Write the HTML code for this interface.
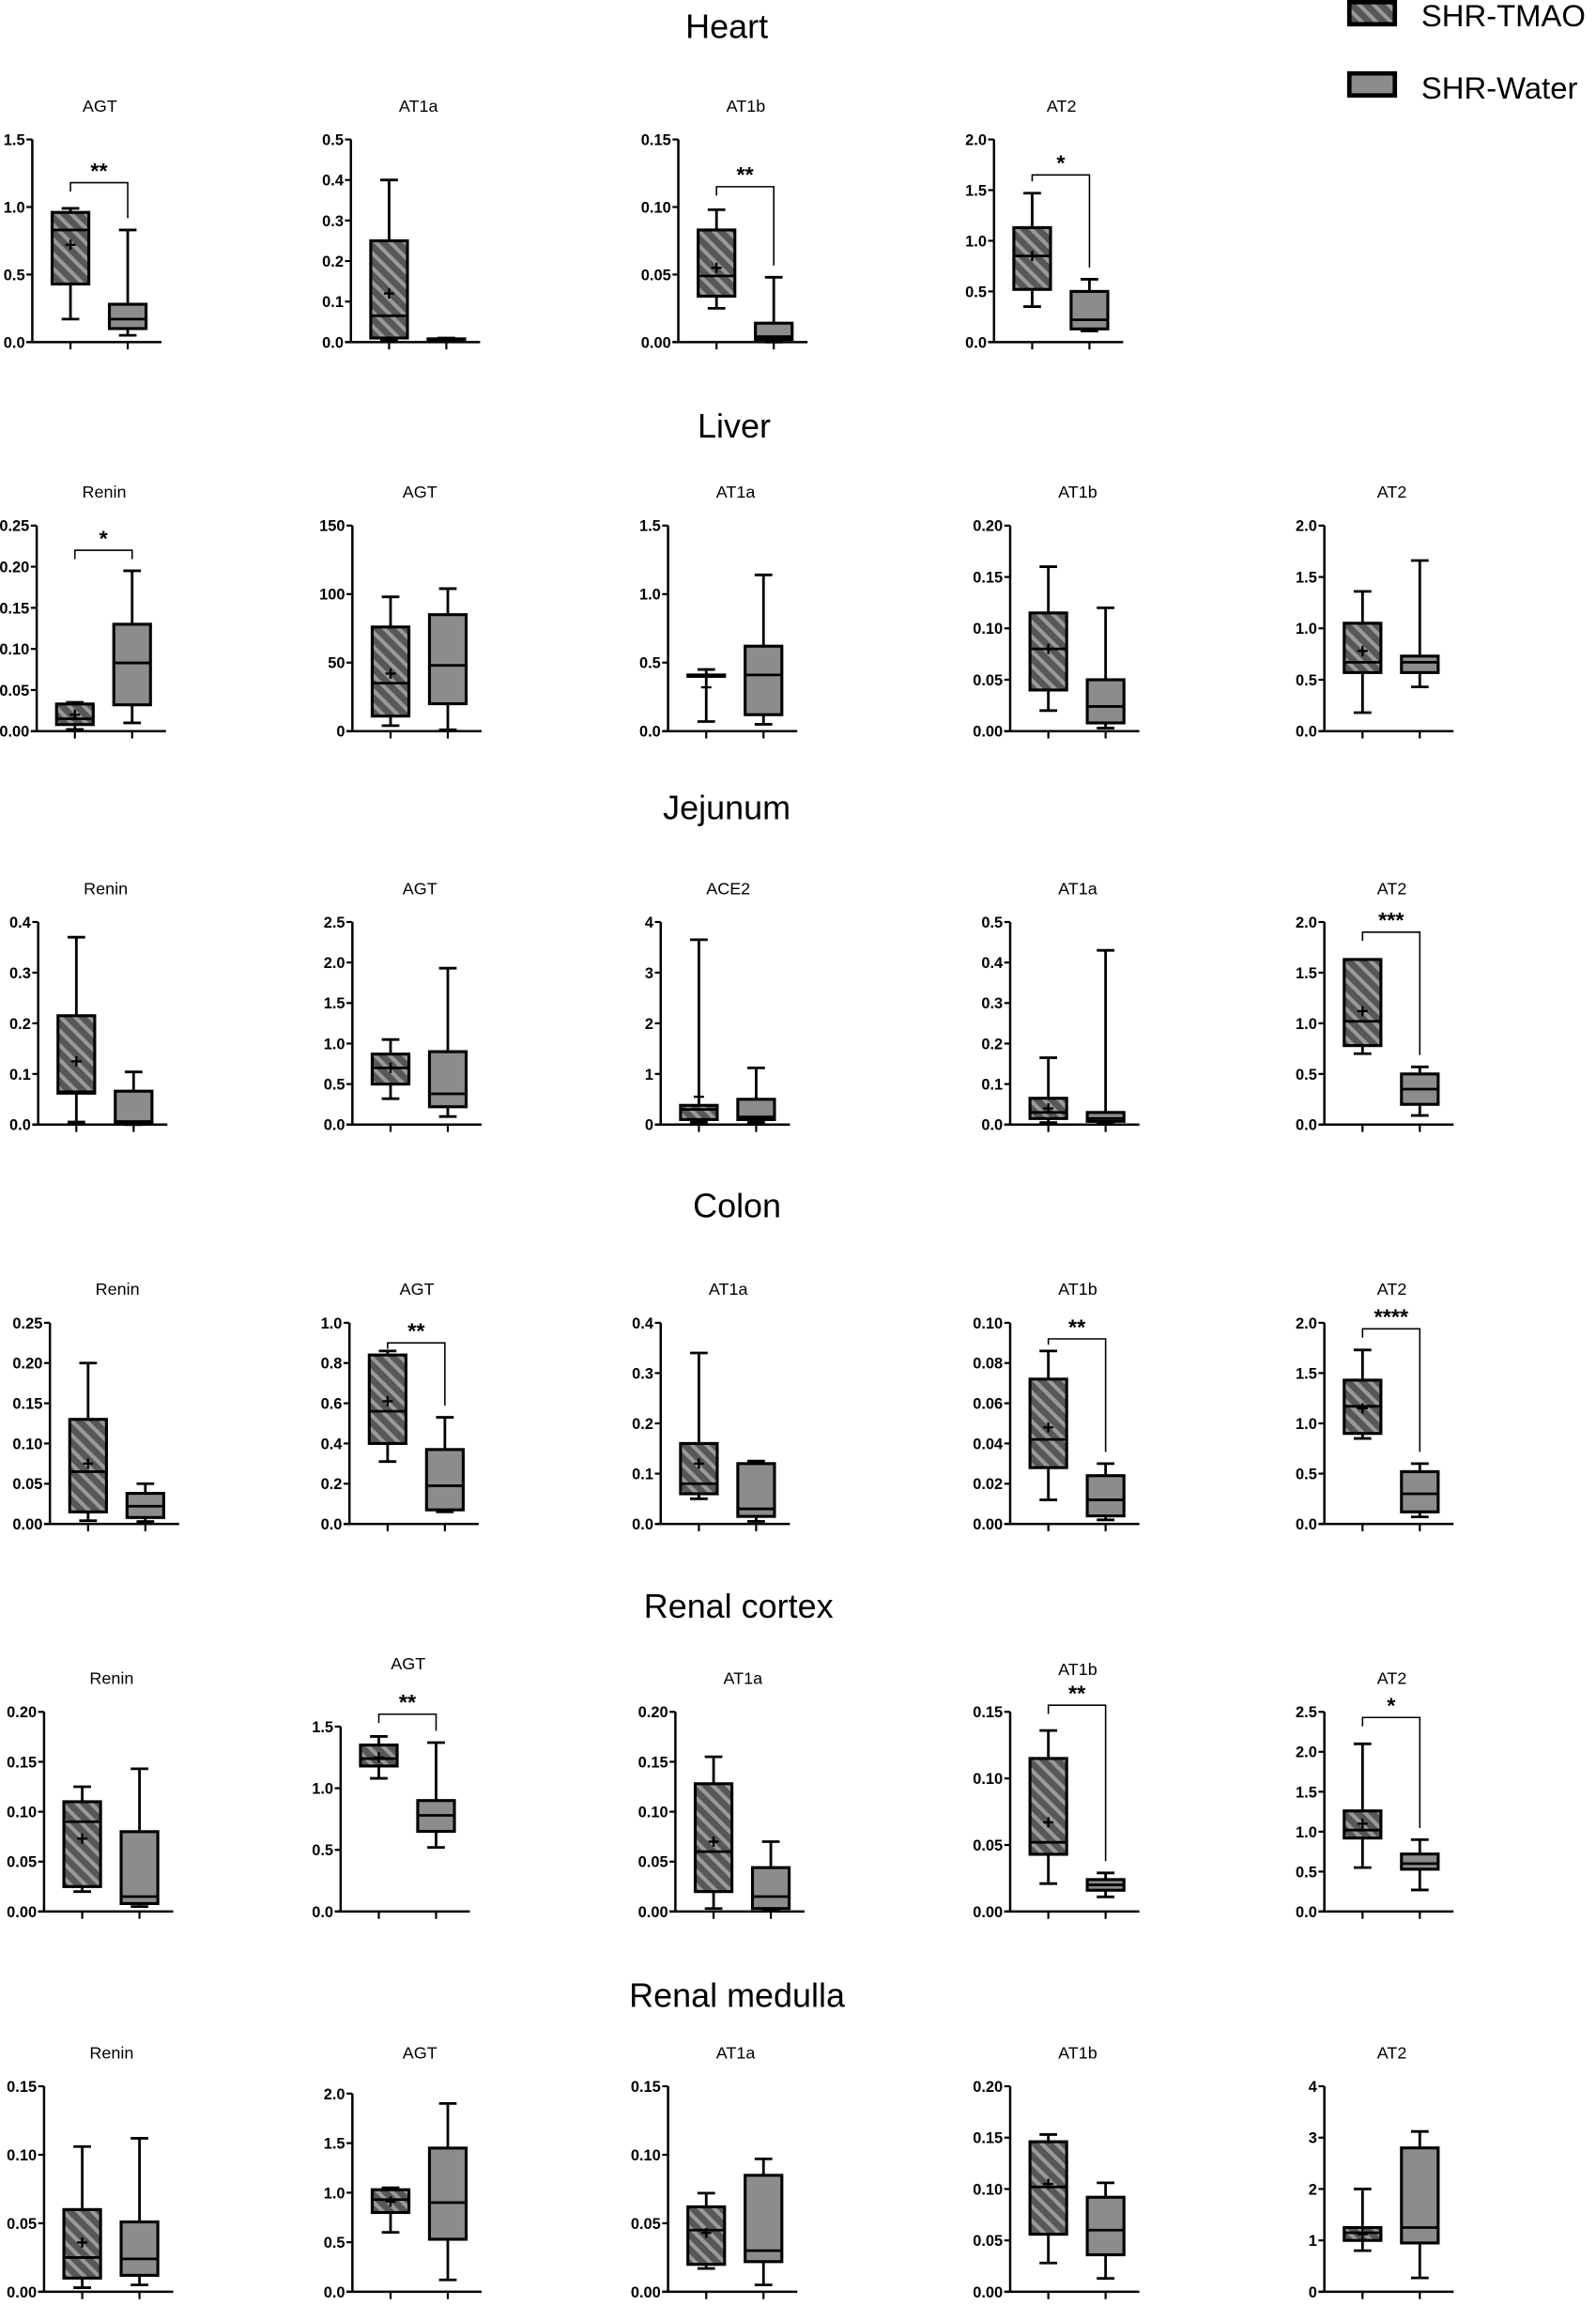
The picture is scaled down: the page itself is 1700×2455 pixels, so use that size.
<!DOCTYPE html>
<html><head><meta charset="utf-8"><style>
html,body{margin:0;padding:0;background:#fff}
svg{display:block}
text{font-family:"Liberation Sans",Arial,sans-serif}
</style></head><body>
<svg id="fig" xmlns="http://www.w3.org/2000/svg" width="1700" height="2455" viewBox="0 0 1087 1570" preserveAspectRatio="none">
<defs>
<pattern id="hatch" patternUnits="userSpaceOnUse" width="7" height="7" patternTransform="rotate(-45)">
<rect width="7" height="7" fill="#575757"/><rect width="2.6" height="7" fill="#9a9a9a"/>
</pattern>
</defs>
<g>
<rect x="919" y="1.5" width="31" height="15" fill="url(#hatch)" stroke="#000" stroke-width="3"/>
<text x="968" y="18" font-size="21">SHR-TMAO</text>
<rect x="919" y="50" width="31" height="15" fill="#8c8c8c" stroke="#000" stroke-width="3"/>
<text x="968" y="67" font-size="21">SHR-Water</text>
</g>
<g id="plots"></g>
</svg>
<script>
// ---- data ----
const rowNames = ["Heart","Liver","Jejunum","Colon","Renal cortex","Renal medulla"];
const panelTitles = [
 ["AGT","AT1a","AT1b","AT2"],
 ["Renin","AGT","AT1a","AT1b","AT2"],
 ["Renin","AGT","ACE2","AT1a","AT2"],
 ["Renin","AGT","AT1a","AT1b","AT2"],
 ["Renin","AGT","AT1a","AT1b","AT2"],
 ["Renin","AGT","AT1a","AT1b","AT2"]
];
const yMax = [
 [1.5,0.5,0.15,2.0],
 [0.25,150,1.5,0.20,2.0],
 [0.4,2.5,4,0.5,2.0],
 [0.25,1.0,0.4,0.10,2.0],
 [0.20,1.5,0.20,0.15,2.5],
 [0.15,2.0,0.15,0.20,4]
];
const yStep = [
 [0.5,0.1,0.05,0.5],
 [0.05,50,0.5,0.05,0.5],
 [0.1,0.5,1,0.1,0.5],
 [0.05,0.2,0.1,0.02,0.5],
 [0.05,0.5,0.05,0.05,0.5],
 [0.05,0.5,0.05,0.05,1]
];
const yDecimals = [
 [1,1,2,1],[2,0,1,2,1],[1,1,0,1,1],[2,1,1,2,1],[2,1,2,2,1],[2,1,2,2,0]
];
// [min, q1, median, q3, max, mean]
const tmaoStats = [
 [[.17,.43,.83,.96,.99,.72],[.005,.01,.065,.25,.40,.12],[.025,.034,.049,.083,.098,.055],[.35,.52,.85,1.13,1.47,.85]],
 [[.002,.008,.015,.033,.035,.02],[4,11,35,76,98,42],[.07,.40,.40,.41,.45,.32],[.02,.04,.08,.115,.16,.08],[.18,.57,.67,1.05,1.36,.78]],
 [[.005,.062,.065,.215,.37,.125],[.32,.5,.7,.87,1.05,.7],[.05,.1,.3,.38,3.65,.55],[.005,.015,.03,.065,.165,.04],[.7,.78,1.02,1.63,1.63,1.12]],
 [[.004,.015,.065,.13,.2,.075],[.31,.4,.56,.84,.86,.61],[.05,.06,.08,.16,.34,.12],[.012,.028,.042,.072,.086,.048],[.85,.9,1.17,1.43,1.73,1.15]],
 [[.02,.025,.09,.11,.125,.073],[1.08,1.18,1.24,1.35,1.42,1.25],[.003,.02,.06,.128,.155,.07],[.021,.043,.052,.115,.136,.067],[.55,.92,1.02,1.26,2.1,1.1]],
 [[.003,.01,.025,.06,.106,.036],[.6,.8,.93,1.03,1.05,.91],[.017,.02,.045,.062,.072,.043],[.028,.056,.102,.146,.153,.105],[.8,1.0,1.15,1.25,2.0,1.12]]
];
// [min, q1, median, q3, max]
const waterStats = [
 [[.05,.10,.17,.28,.83],[.003,.004,.006,.008,.01],[0,.002,.004,.014,.048],[.11,.13,.22,.5,.62]],
 [[.01,.032,.083,.13,.195],[1,20,48,85,104],[.05,.12,.41,.62,1.14],[.003,.008,.024,.05,.12],[.43,.57,.67,.73,1.66]],
 [[0,.003,.006,.066,.104],[.1,.22,.38,.9,1.93],[.05,.1,.15,.5,1.12],[.003,.008,.015,.03,.43],[.09,.2,.35,.5,.57]],
 [[.003,.008,.022,.038,.05],[.06,.07,.19,.37,.53],[.005,.015,.03,.12,.125],[.002,.004,.012,.024,.03],[.07,.12,.3,.52,.6]],
 [[.005,.008,.015,.08,.143],[.52,.65,.78,.9,1.37],[.002,.003,.015,.044,.07],[.011,.016,.02,.024,.029],[.27,.53,.6,.72,.9]],
 [[.005,.012,.024,.051,.112],[.12,.53,.9,1.45,1.9],[.005,.022,.03,.085,.097],[.013,.036,.06,.092,.106],[.27,.95,1.25,2.8,3.12]]
];
const sigStars = [
 ["**","","**","*"],
 ["*","","","",""],
 ["","","","","***"],
 ["","**","","**","****"],
 ["","**","","**","*"],
 ["","","","",""]
];
const sigLevel = [
 [1.18,0,.115,1.65],
 [.22,0,0,0,0],
 [0,0,0,0,1.9],
 [0,.9,0,.092,1.94],
 [0,1.6,0,.155,2.43],
 [0,0,0,0,0]
];
// ---- layout (pixels, not data) ----
const rowTitleY = [26,298,558,829,1102,1367];
const rowTitleX = [495,500,495,502,503,502];
const rowTop = [95,358,628,901,1166,1421];
const rowBottom = [233,498,766,1038,1302,1561];
const topShift = [
 [0,0,0,0],[0,0,0,0,0],[0,0,0,0,0],[0,0,0,0,0],[0,10,0,0,0],[0,5,0,0,0]
];
const titleShift = [
 [0,0,0,0],[0,0,0,0,0],[0,0,0,0,0],[0,0,0,0,0],[0,-10,0,-6,0],[0,0,0,0,0]
];
const axisX = [
 [22,239,462,677],
 [25,240,455,688,902],
 [26,240,450,688,902],
 [34,238,450,688,902],
 [30,232,460,688,902],
 [30,240,455,688,902]
];
const NS="http://www.w3.org/2000/svg";
const root=document.getElementById('plots');
function mk(tag,attrs,parent){const e=document.createElementNS(NS,tag);for(const k in attrs)e.setAttribute(k,attrs[k]);(parent||root).appendChild(e);return e;}

rowNames.forEach((rn,r)=>{
  const t=mk('text',{x:rowTitleX[r],y:rowTitleY[r],'font-size':23,'text-anchor':'middle'});
  
  
  t.textContent=rn;
  panelTitles[r].forEach((pt,p)=>{
    const g=mk('g',{});
    
    
    const ax=axisX[r][p], top=rowTop[r]+topShift[r][p], bot=rowBottom[r], ymax=yMax[r][p];
    const yS=v=>bot-(v/ymax)*(bot-top);
    const x1=ax+26, x2=ax+65, bw=12.5;
    const ty=rowTop[r]-19+titleShift[r][p];
    const ttl=mk('text',{x:ax+46,y:ty,'font-size':11.5,'text-anchor':'middle'},g);
    
    
    ttl.textContent=pt;
    const ya=mk('line',{x1:ax,y1:top,x2:ax,y2:bot,stroke:'#000','stroke-width':1.6},g);
    
    
    const xa=mk('line',{x1:ax-4,y1:bot,x2:ax+88,y2:bot,stroke:'#000','stroke-width':1.6},g);
    
    
    [x1,x2].forEach(xx=>{mk('line',{x1:xx,y1:bot,x2:xx,y2:bot+5,stroke:'#000','stroke-width':1.4},g);});
    const n=Math.round(ymax/yStep[r][p]);
    for(let i=0;i<=n;i++){
      const v=i*yStep[r][p], y=yS(v);
      mk('line',{x1:ax-4,y1:y,x2:ax,y2:y,stroke:'#000','stroke-width':1.4},g);
      const tl=mk('text',{x:ax-5,y:y+3.8,'font-size':10.5,'font-weight':'bold','text-anchor':'end'},g);
      
      
      tl.textContent=v.toFixed(yDecimals[r][p]);
    }
    function box(st,cx,fill,name){
      const bg=mk('g',{},g);
      
      
      mk('line',{x1:cx,y1:yS(st[0]),x2:cx,y2:yS(st[4]),stroke:'#000','stroke-width':1.8},bg);
      mk('line',{x1:cx-6,y1:yS(st[0]),x2:cx+6,y2:yS(st[0]),stroke:'#000','stroke-width':1.8},bg);
      mk('line',{x1:cx-6,y1:yS(st[4]),x2:cx+6,y2:yS(st[4]),stroke:'#000','stroke-width':1.8},bg);
      const h=Math.max(yS(st[1])-yS(st[3]),0.5);
      mk('rect',{x:cx-bw,y:yS(st[3]),width:2*bw,height:h,fill:fill,stroke:'#000','stroke-width':2},bg);
      mk('line',{x1:cx-bw,y1:yS(st[2]),x2:cx+bw,y2:yS(st[2]),stroke:'#000','stroke-width':1.8},bg);
      if(st.length>5){
        const my=yS(st[5]);
        mk('line',{x1:cx-3.5,y1:my,x2:cx+3.5,y2:my,stroke:'#000','stroke-width':1.5},bg);
        mk('line',{x1:cx,y1:my-3.5,x2:cx,y2:my+3.5,stroke:'#000','stroke-width':1.5},bg);
      }
    }
    box(tmaoStats[r][p],x1,'url(#hatch)','box-shr-tmao');
    box(waterStats[r][p],x2,'#8c8c8c','box-shr-water');
    if(sigStars[r][p]){
      const sg=mk('g',{},g);
      
      
      const by=yS(sigLevel[r][p]);
      const l1=yS(tmaoStats[r][p][4])-8, l2=yS(waterStats[r][p][4])-8;
      mk('polyline',{points:`${x1},${Math.max(Math.min(l1,by+6),by+4)} ${x1},${by} ${x2},${by} ${x2},${Math.max(l2,by+4)}`,fill:'none',stroke:'#000','stroke-width':1},sg);
      const st=mk('text',{x:(x1+x2)/2,y:by-3,'font-size':15,'font-weight':'bold','text-anchor':'middle'},sg);
      
      
      st.textContent=sigStars[r][p];
    }
  });
});
</script>
</body></html>
